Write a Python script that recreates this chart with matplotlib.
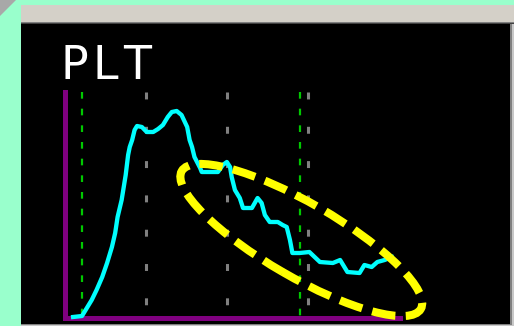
import matplotlib
matplotlib.use("Agg")
import matplotlib.pyplot as plt
import matplotlib.patches as mpatches
import matplotlib.transforms as mtransforms

plt.rcParams['lines.scale_dashes'] = False

# PLT histogram: platelet volume (fL) against relative count
size_fl = [1.0, 2.1, 2.7, 3.3, 3.9, 4.6, 5.2, 5.8, 6.2, 6.5, 7.0, 7.2, 7.5, 7.8,
           8.0, 8.3, 8.6, 8.9, 9.5, 10.1, 10.9, 11.5, 12.1, 12.7, 13.2, 13.8,
           14.4, 15.1, 15.4, 15.7, 16.0, 16.7, 16.9, 17.9, 18.9, 19.5, 20.0,
           20.4, 20.6, 21.0, 21.6, 22.0, 23.1, 23.8, 24.3, 24.7, 25.3, 26.3,
           26.9, 27.4, 27.8, 28.1, 29.0, 30.2, 31.5, 33.1, 34.0, 34.9, 36.4,
           37.0, 37.9, 38.6, 39.5, 40.4]
counts = [1, 2, 10, 18, 28, 41, 55, 71, 85, 101, 118, 128, 143, 163,
          171, 178, 188, 192, 191, 186, 186, 189, 193, 201, 206, 207,
          203, 191, 178, 171, 161, 150, 146, 146, 146, 153, 156,
          151, 141, 128, 120, 110, 110, 120, 115, 103, 96, 96,
          93, 91, 78, 65, 65, 66, 56, 55, 58, 46, 45,
          53, 51, 56, 58, 61]
discriminators = [2.1, 29.1]
grid_fl = [10, 20, 30]
title = "PLT"

# flagged tail region (centre in fL / count, size in pixels)
flag_center = (29.2, 78)
flag_size = (276, 74)
flag_angle = -30

W, H = 514, 326
fig = plt.figure(figsize=(W / 100, H / 100), dpi=100, facecolor='#99FFCC')

# window frame drawn in pixel units
bg = fig.add_axes([0, 0, 1, 1])
bg.set_xlim(0, W)
bg.set_ylim(H, 0)
bg.axis('off')
bg.add_patch(mpatches.Polygon([(0, 0), (16, 0), (0, 16)], color='#A8A8A8', lw=0))
bg.add_patch(mpatches.Rectangle((21, 5), W - 21, 17, color='#D4D0C8', lw=0))
bg.add_patch(mpatches.Rectangle((21, 21.5), W - 21, 1.5, color='#808080', lw=0))
bg.add_patch(mpatches.Rectangle((21, 23), W - 21, 1.5, color='#404040', lw=0))
bg.add_patch(mpatches.Rectangle((21, 24), W - 21, H - 24, color='#C8C8C8', lw=0))
bg.add_patch(mpatches.Rectangle((21, 24), 489, 299.5, color='black', lw=0))
bg.add_patch(mpatches.Rectangle((510, 24), 1.5, 301, color='#808080', lw=0))
bg.add_patch(mpatches.Rectangle((21, 323.5), 490.5, 1.5, color='#808080', lw=0))

# title letters set with the wide spacing of the analyser screen
for letter, lx in zip(title, [60.5, 92.5, 123]):
    bg.text(lx, 79, letter, color='white', fontsize=33, ha='left',
            va='baseline', family='DejaVu Sans')

# histogram axes: 8.1 px per fL, 1 px per count
x0, y0 = 65, 318
ax = fig.add_axes([x0 / W, (H - y0) / H, 335 / W, 226 / H])
ax.set_xlim(0, 41.4)
ax.set_ylim(0, 226)
ax.patch.set_visible(False)
ax.set_xticks([])
ax.set_yticks([])
for side in ['top', 'right']:
    ax.spines[side].set_visible(False)
for side in ['left', 'bottom']:
    ax.spines[side].set_color('#800080')
    ax.spines[side].set_linewidth(3.6)
    ax.spines[side].set_capstyle('projecting')

top = ax.get_ylim()[1]
for g in grid_fl:
    ax.plot([g, g], [top, 0], color='#808080', lw=2.2, dashes=(5.0, 19.7),
            solid_capstyle='butt', zorder=2)
for d in discriminators:
    ax.plot([d, d], [top, 0], color='#00C800', lw=1.6, dashes=(4.8, 7.2),
            zorder=2)

ax.plot(size_fl, counts, color='#00FFFF', lw=3.1, solid_joinstyle='round',
        clip_on=False, zorder=3)

flag_tr = mtransforms.IdentityTransform() + \
    mtransforms.ScaledTranslation(flag_center[0], flag_center[1], ax.transData)
flag = mpatches.Ellipse((0, 0), flag_size[0], flag_size[1], angle=flag_angle,
                        transform=flag_tr, fill=False, edgecolor='#FFFF00',
                        lw=5.8, linestyle=(3, (17, 7.5)), clip_on=False, zorder=4)
ax.add_patch(flag)

fig.savefig('out.png', dpi=100, facecolor=fig.get_facecolor())
